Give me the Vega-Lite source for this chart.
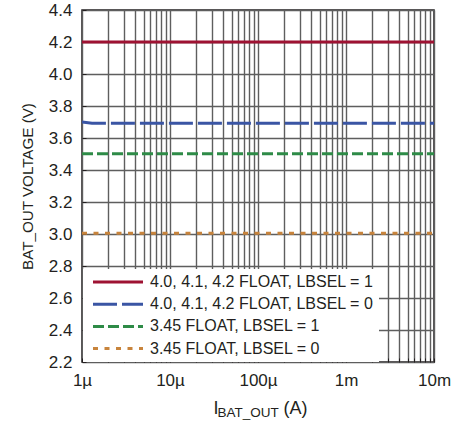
{
  "$schema": "https://vega.github.io/schema/vega-lite/v6.json",
  "autosize": {"type": "none"},
  "width": 352,
  "height": 352,
  "padding": {"left": 82, "top": 10, "right": 34, "bottom": 61},
  "background": "white",
  "config": {
    "font": "Liberation Sans",
    "view": {"stroke": "#231f20", "strokeWidth": 1.5},
    "axis": {"labelFont": "Liberation Sans", "titleFont": "Liberation Sans", "labelColor": "#231f20", "titleColor": "#231f20", "titleFontWeight": "normal"},
    "legend": {"labelFont": "Liberation Sans"}
  },
  "data": {
    "values": [
      {"current": 0.000001, "voltage": 4.2, "series": "4.0, 4.1, 4.2 FLOAT, LBSEL = 1"},
      {"current": 0.01, "voltage": 4.2, "series": "4.0, 4.1, 4.2 FLOAT, LBSEL = 1"},
      {"current": 0.000001, "voltage": 3.70, "series": "4.0, 4.1, 4.2 FLOAT, LBSEL = 0"},
      {"current": 0.0000013, "voltage": 3.692, "series": "4.0, 4.1, 4.2 FLOAT, LBSEL = 0"},
      {"current": 0.01, "voltage": 3.692, "series": "4.0, 4.1, 4.2 FLOAT, LBSEL = 0"},
      {"current": 0.000001, "voltage": 3.502, "series": "3.45 FLOAT, LBSEL = 1"},
      {"current": 0.01, "voltage": 3.502, "series": "3.45 FLOAT, LBSEL = 1"},
      {"current": 0.000001, "voltage": 3.005, "series": "3.45 FLOAT, LBSEL = 0"},
      {"current": 0.01, "voltage": 3.005, "series": "3.45 FLOAT, LBSEL = 0"}
    ]
  },
  "resolve": {"axis": {"x": "independent"}},
  "layer": [
    {
      "mark": {"type": "line", "strokeWidth": 3, "clip": true},
      "encoding": {
        "x": {
          "field": "current", "type": "quantitative",
          "scale": {"type": "log", "domain": [0.000001, 0.01], "nice": false},
          "axis": {
            "orient": "bottom",
            "values": [0.000001, 0.000002, 0.000003, 0.000004, 0.000005, 0.000006, 0.000007, 0.000008, 0.000009,
                       0.00001, 0.00002, 0.00003, 0.00004, 0.00005, 0.00006, 0.00007, 0.00008, 0.00009,
                       0.0001, 0.0002, 0.0003, 0.0004, 0.0005, 0.0006, 0.0007, 0.0008, 0.0009,
                       0.001, 0.002, 0.003, 0.004, 0.005, 0.006, 0.007, 0.008, 0.009, 0.01],
            "labelExpr": "datum.value == 0.000001 ? '1µ' : datum.value == 0.00001 ? '10µ' : datum.value == 0.0001 ? '100µ' : datum.value == 0.001 ? '1m' : datum.value == 0.01 ? '10m' : ''",
            "labelOverlap": false,
            "grid": true, "gridColor": "#5e5e5e", "gridWidth": 1.4, "gridOpacity": 1,
            "domain": false,
            "tickSize": -4, "tickColor": "#231f20", "tickWidth": 1,
            "labelFontSize": 17, "labelPadding": 14, "labelFlush": false,
            "title": "I", "titleFontSize": 18, "titleAlign": "left", "titleAnchor": null,
            "titleX": 131, "titleY": 51, "titleBaseline": "alphabetic"
          }
        },
        "y": {
          "field": "voltage", "type": "quantitative",
          "scale": {"domain": [2.2, 4.4], "nice": false, "zero": false},
          "axis": {
            "values": [2.2, 2.4, 2.6, 2.8, 3.0, 3.2, 3.4, 3.6, 3.8, 4.0, 4.2, 4.4],
            "format": ".1f",
            "labelOverlap": false,
            "grid": true, "gridColor": "#5e5e5e", "gridWidth": 1.4, "gridOpacity": 1,
            "domain": false,
            "tickSize": -4, "tickColor": "#231f20", "tickWidth": 1,
            "labelFontSize": 17, "labelPadding": 14,
            "title": "BAT_OUT VOLTAGE (V)", "titleFontSize": 15.2, "titlePadding": 13
          }
        },
        "color": {
          "field": "series", "type": "nominal",
          "scale": {
            "domain": ["4.0, 4.1, 4.2 FLOAT, LBSEL = 1", "4.0, 4.1, 4.2 FLOAT, LBSEL = 0", "3.45 FLOAT, LBSEL = 1", "3.45 FLOAT, LBSEL = 0"],
            "range": ["#9e1232", "#3a55a4", "#2e8b47", "#c8843c"]
          },
          "legend": {
            "title": null, "orient": "none", "legendX": 1, "legendY": 259,
            "fillColor": "white", "padding": 5,
            "symbolType": "M-5,0H5", "symbolSize": 100, "symbolStrokeWidth": 3, "symbolOffset": 22,
            "labelFontSize": 16, "labelColor": "#231f20", "labelOffset": 24, "rowPadding": 6.2,
            "labelLimit": 400
          }
        },
        "strokeDash": {
          "field": "series", "type": "nominal",
          "scale": {
            "domain": ["4.0, 4.1, 4.2 FLOAT, LBSEL = 1", "4.0, 4.1, 4.2 FLOAT, LBSEL = 0", "3.45 FLOAT, LBSEL = 1", "3.45 FLOAT, LBSEL = 0"],
            "range": [[1, 0], [24, 5], [11, 4], [5, 6.5]]
          },
          "legend": null
        }
      }
    },
    {
      "mark": {"type": "line", "opacity": 0},
      "encoding": {
        "x": {
          "field": "current", "type": "quantitative",
          "scale": {"type": "log", "domain": [0.000001, 0.01], "nice": false},
          "axis": {
            "orient": "bottom",
            "labels": false, "ticks": false, "domain": false, "grid": false,
            "title": "BAT_OUT", "titleFontSize": 13.5, "titleAlign": "left", "titleAnchor": null,
            "titleX": 135, "titleY": 54, "titleBaseline": "alphabetic"
          }
        }
      }
    },
    {
      "mark": {"type": "line", "opacity": 0},
      "encoding": {
        "x": {
          "field": "current", "type": "quantitative",
          "scale": {"type": "log", "domain": [0.000001, 0.01], "nice": false},
          "axis": {
            "orient": "bottom",
            "labels": false, "ticks": false, "domain": false, "grid": false,
            "title": "(A)", "titleFontSize": 18, "titleAlign": "left", "titleAnchor": null,
            "titleX": 201, "titleY": 51, "titleBaseline": "alphabetic"
          }
        }
      }
    }
  ]
}
